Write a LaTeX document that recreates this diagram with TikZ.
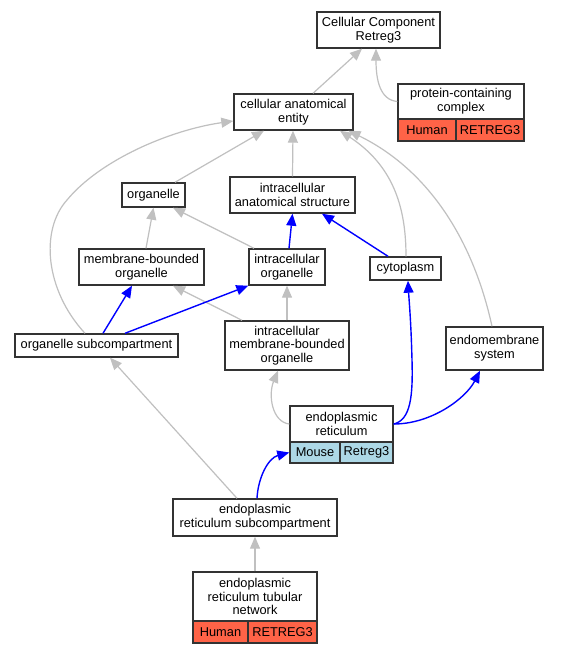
\documentclass[tikz,border=0pt]{standalone}
\usepackage{fontspec}
\setmainfont{Liberation Sans}
\usetikzlibrary{arrows.meta}
\definecolor{edgegray}{HTML}{C0C0C0}
\definecolor{edgeblue}{HTML}{0000FF}
\definecolor{boxdraw}{HTML}{333333}
\definecolor{humanfill}{HTML}{FF6347}
\definecolor{mousefill}{HTML}{ADD8E6}
\tikzset{
  box/.style={draw=boxdraw, line width=1.4pt, fill=white, align=center, inner sep=0pt,
    font=\fontsize{12.8}{13.8}\selectfont},
  cell/.style={draw=boxdraw, line width=1.4pt, align=center, inner sep=0pt,
    font=\fontsize{12.8}{13.8}\selectfont},
  grayedge/.style={draw=edgegray, line width=1.2pt, -{Triangle[length=12pt,width=10pt]}},
  blueedge/.style={draw=edgeblue, line width=1.4pt, -{Triangle[length=12pt,width=10pt]}},
}
\begin{document}
\begin{tikzpicture}[x=1pt,y=-1pt]
\useasboundingbox[fill=white] (0,0) rectangle (560,653);
% nodes
\node[box, minimum width=123pt, minimum height=36pt] (cc) at (378.5,30) {Cellular Component\\Retreg3};
\node[box, minimum width=126pt, minimum height=35pt] (pcc) at (461,101.5) {protein-containing\\complex};
\node[cell, fill=humanfill, minimum width=58pt, minimum height=22pt] (pcch) at (427,130) {Human};
\node[cell, fill=humanfill, minimum width=68pt, minimum height=22pt] (pccr) at (490,130) {RETREG3};
\node[box, minimum width=119pt, minimum height=36pt] (cae) at (293.5,112) {cellular anatomical\\entity};
\node[box, minimum width=63pt, minimum height=24pt] (org) at (153.5,195) {organelle};
\node[box, minimum width=125pt, minimum height=36pt] (ias) at (292.5,195) {intracellular\\anatomical structure};
\node[box, minimum width=125pt, minimum height=36pt] (mbo) at (141.5,267) {membrane-bounded\\organelle};
\node[box, minimum width=76pt, minimum height=36pt] (io) at (287,267) {intracellular\\organelle};
\node[box, minimum width=71pt, minimum height=23pt] (cyto) at (405.5,268.5) {cytoplasm};
\node[box, minimum width=163pt, minimum height=23pt] (os) at (96.5,345.5) {organelle subcompartment};
\node[box, minimum width=124pt, minimum height=49pt] (imbo) at (287,345.5) {intracellular\\membrane-bounded\\organelle};
\node[box, minimum width=97pt, minimum height=43pt] (ems) at (494.5,348.5) {endomembrane\\system};
\node[box, minimum width=103pt, minimum height=36pt] (er) at (341.5,424) {endoplasmic\\reticulum};
\node[cell, fill=mousefill, minimum width=50pt, minimum height=21pt] (erm) at (315,452.5) {Mouse};
\node[cell, fill=mousefill, minimum width=53pt, minimum height=21pt] (err) at (366.5,452.5) {Retreg3};
\node[box, minimum width=164pt, minimum height=37pt] (ersub) at (255,517.5) {endoplasmic\\reticulum subcompartment};
\node[box, minimum width=124pt, minimum height=49pt] (tub) at (255,596.5) {endoplasmic\\reticulum tubular\\network};
\node[cell, fill=humanfill, minimum width=55pt, minimum height=22pt] (tubh) at (220.5,632) {Human};
\node[cell, fill=humanfill, minimum width=69pt, minimum height=22pt] (tubr) at (282.5,632) {RETREG3};
% gray edges
\draw[grayedge] ([xshift=19.5pt]cae.north) -- ([xshift=-16.5pt]cc.south);
\draw[grayedge] (pcc.west) .. controls (380,100) and (376,80) .. ([xshift=-2.5pt]cc.south);
\draw[grayedge] ([xshift=21.5pt]org.north) -- ([xshift=-29.5pt]cae.south);
\draw[grayedge] (ias.north) -- ([xshift=0.5pt]ias.north |- cae.south);
\draw[grayedge] ([xshift=0.5pt]cyto.north) .. controls (406,205) and (392,165) .. ([xshift=46.5pt]cae.south);
\draw[grayedge] ([xshift=-2.5pt]ems.north) .. controls (472,235) and (425,168) .. ([xshift=55pt]cae.south);
\draw[grayedge] ([xshift=-11.5pt]os.north) .. controls (45,290) and (40,230) .. (67,200)
  .. controls (100,160) and (170,130) .. ([yshift=-9pt]cae.west);
\draw[grayedge] ([xshift=4.5pt]mbo.north) -- (org.south);
\draw[grayedge] ([xshift=-33pt]io.north) -- ([xshift=19.5pt]org.south);
\draw[grayedge] ([xshift=-45pt]imbo.north) -- ([xshift=31.5pt]mbo.south);
\draw[grayedge] (imbo.north) -- (io.south);
\draw[grayedge] (er.west) .. controls (272,422) and (268,395) .. ([xshift=-9pt]imbo.south);
\draw[grayedge] ([xshift=-18pt]ersub.north) -- ([xshift=13.5pt]os.south);
\draw[grayedge] (tub.north) -- (ersub.south);
% blue edges
\draw[blueedge] ([xshift=2pt]io.north) -- (ias.south);
\draw[blueedge] ([xshift=-17.5pt]cyto.north) -- ([xshift=29.5pt]ias.south);
\draw[blueedge] ([xshift=6.5pt]os.north) -- ([xshift=-9.5pt]mbo.south);
\draw[blueedge] ([xshift=28.5pt]os.north) -- (io.south west);
\draw[blueedge] (er.east) .. controls (411,420) and (413,395) .. (412,360)
  .. controls (411,320) and (409,300) .. ([xshift=2.5pt]cyto.south);
\draw[blueedge] (er.east) .. controls (432,424) and (466,398) .. ([xshift=-14.5pt]ems.south);
\draw[blueedge] ([xshift=2pt]ersub.north) .. controls (258,478) and (268,458) .. (erm.west);
\end{tikzpicture}
\end{document}
